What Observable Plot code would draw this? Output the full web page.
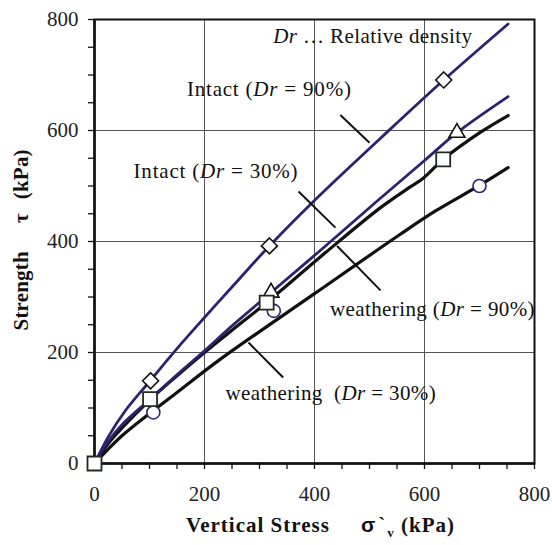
<!DOCTYPE html>
<html><head><meta charset="utf-8">
<script src="https://cdn.jsdelivr.net/npm/d3@7"></script>
<script src="https://cdn.jsdelivr.net/npm/@observablehq/plot@0.6"></script>
<style>
html,body{margin:0;padding:0;background:#fff;}
#chart svg{display:block;}
</style>
</head><body><div id="chart"></div>
<script>
// ---- data ----
const intact90X = [0, 25, 56, 102, 150, 200, 250, 318, 400, 520, 635, 752];
const intact90Y = [0, 48, 95, 150, 207, 263, 318, 392, 474, 586, 691, 792];

const intact30X = [0, 25, 50, 100, 150, 200, 250, 321, 420, 514, 599, 659, 752];
const intact30Y = [0, 40, 70, 115, 160, 203, 248, 308, 392, 473, 545, 596, 661];

const weather90X = [0, 25, 50, 100, 150, 200, 250, 313, 420, 520, 572, 599, 634, 702, 752];
const weather90Y = [0, 36, 64, 114, 158, 200, 240, 290, 380, 461, 497, 515, 548, 597, 627];

const weather30X = [0, 25, 50, 100, 150, 229, 400, 556, 620, 700, 752];
const weather30Y = [0, 26, 50, 90, 128, 188, 306, 413, 455, 501, 533];

const diamondX = [102, 318, 635];
const diamondY = [149, 392, 691];
const triangleX = [321, 659];
const triangleY = [308, 596];
const squareX = [0, 101, 313, 634];
const squareY = [0, 116, 290, 548];
const circleX = [107, 326, 700];
const circleY = [92, 275, 500];

const annotLabels = ["Dr … Relative density", "Intact (Dr = 90%)", "Intact (Dr = 30%)", "weathering (Dr = 90%)", "weathering  (Dr = 30%)"];
const annotX = [325, 168, 71, 428, 238];
const annotY = [770, 675, 526, 277, 127];

const leaderX1 = [447, 371, 441, 280];
const leaderY1 = [628, 490, 392, 218];
const leaderX2 = [500, 438, 520, 343];
const leaderY2 = [578, 425, 312, 155];

const majorTicks = [0, 200, 400, 600, 800];
const minorTicks = d3.range(0, 801, 50);
const gridTicks = [200, 400, 600];

const xTitle = "Vertical Stress σ`v (kPa)";
const yTitle = "Strength τ (kPa)";

// ---- build tables ----
const zipXY = (xs, ys) => xs.map((x, i) => ({x, y: ys[i]}));
const annots = annotLabels.map((label, i) => ({label, x: annotX[i], y: annotY[i]}));
const leaders = leaderX1.map((x1, i) => ({x1, y1: leaderY1[i], x2: leaderX2[i], y2: leaderY2[i]}));

const PURPLE = "#2e2270";
const FONT = "'Liberation Serif', 'Times New Roman', serif";

const chart = Plot.plot({
  width: 552, height: 545,
  marginLeft: 94, marginRight: 18, marginTop: 19, marginBottom: 82,
  x: {domain: [0, 800], label: null},
  y: {domain: [0, 800], label: null},
  style: {fontFamily: FONT, fontSize: "21px", color: "#111", background: "white"},
  marks: [
    Plot.gridX(gridTicks, {stroke: "#555", strokeOpacity: 1, strokeWidth: 1}),
    Plot.gridY(gridTicks, {stroke: "#555", strokeOpacity: 1, strokeWidth: 1}),
    Plot.frame({stroke: "#111", strokeWidth: 2}),
    Plot.ruleX([0], {stroke: "#111", strokeWidth: 2.5}),
    Plot.ruleY([0], {stroke: "#111", strokeWidth: 2.5}),
    Plot.axisX(minorTicks, {tickSize: 6, tickFormat: () => "", label: null, stroke: "#111", strokeWidth: 1.3}),
    Plot.axisY(minorTicks, {tickSize: 6, tickFormat: () => "", label: null, stroke: "#111", strokeWidth: 1.3}),
    Plot.axisX(majorTicks, {tickSize: 0, tickPadding: 23, label: null, fontSize: 21, fill: "#222"}),
    Plot.axisY(majorTicks, {tickSize: 0, tickPadding: 16, label: null, fontSize: 21, fill: "#222"}),
    Plot.line(zipXY(weather30X, weather30Y), {x: "x", y: "y", stroke: "#111", strokeWidth: 3.2, curve: "catmull-rom"}),
    Plot.line(zipXY(weather90X, weather90Y), {x: "x", y: "y", stroke: "#111", strokeWidth: 3.2, curve: "catmull-rom"}),
    Plot.line(zipXY(intact30X, intact30Y), {x: "x", y: "y", stroke: PURPLE, strokeWidth: 2.8, curve: "catmull-rom"}),
    Plot.line(zipXY(intact90X, intact90Y), {x: "x", y: "y", stroke: PURPLE, strokeWidth: 2.8, curve: "catmull-rom"}),
    Plot.link(leaders, {x1: "x1", y1: "y1", x2: "x2", y2: "y2", stroke: "#111", strokeWidth: 2}),
    Plot.dot(zipXY(circleX, circleY), {x: "x", y: "y", symbol: "circle", r: 6.5, fill: "white", stroke: PURPLE, strokeWidth: 1.6}),
    Plot.dot(zipXY(triangleX, triangleY), {x: "x", y: "y", symbol: "triangle2", r: 7.6, fill: "white", stroke: "#111", strokeWidth: 1.6}),
    Plot.dot(zipXY(squareX, squareY), {x: "x", y: "y", symbol: "square2", r: 8.9, fill: "white", stroke: "#1f2b1f", strokeWidth: 1.8}),
    Plot.dot(zipXY(diamondX, diamondY), {x: "x", y: "y", symbol: "diamond2", r: 7.2, fill: "white", stroke: "#111", strokeWidth: 1.6}),
    Plot.text(annots, {x: "x", y: "y", text: "label", textAnchor: "start", fontSize: 21, fill: "#111"}),
    Plot.text([xTitle], {frameAnchor: "bottom", dy: 68, dx: 6, fontSize: 21, fontWeight: "bold", fill: "#111"}),
    Plot.text([yTitle], {frameAnchor: "left", dx: -73, dy: 89, rotate: -90, textAnchor: "start", fontSize: 21, fontWeight: "bold", fill: "#111"})
  ]
});

document.getElementById("chart").appendChild(chart);

// ---- rich text (italics, subscripts, gaps) ----
function setParts(el, parts, spacing) {
  const t = d3.select(el);
  t.text(null).style("white-space", "pre");
  if (spacing != null) t.style("letter-spacing", spacing + "px");
  for (const p of parts) {
    const s = t.append("tspan").text(p.t);
    if (p.italic) s.attr("font-style", "italic");
    if (p.family) s.attr("font-family", p.family);
    if (p.size) s.attr("font-size", p.size);
    if (p.dx != null) s.attr("dx", p.dx);
    if (p.dy != null) s.attr("dy", p.dy);
  }
}
d3.select(chart).selectAll("text").each(function() {
  const s = this.textContent;
  if (annotLabels.includes(s)) {
    const pieces = s.split("Dr");
    const parts = [];
    pieces.forEach((piece, i) => {
      if (i > 0) parts.push({t: "Dr", italic: true});
      if (piece) parts.push({t: piece});
    });
    setParts(this, parts, s.startsWith("Intact") ? 0.8 : 0.4);
  } else if (s === xTitle) {
    setParts(this, [
      {t: "Vertical Stress"},
      {t: "σ", dx: 31, family: "'Liberation Sans', Arial, sans-serif"},
      {t: "`", dx: 2},
      {t: "v", size: 13, dy: 5, dx: 1},
      {t: " (kPa)", dy: -5}
    ], 1);
  } else if (s === yTitle) {
    setParts(this, [
      {t: "Strength"},
      {t: "τ", dx: 28},
      {t: "(kPa)", dx: 14}
    ], 0.2);
  }
});
</script></body></html>
